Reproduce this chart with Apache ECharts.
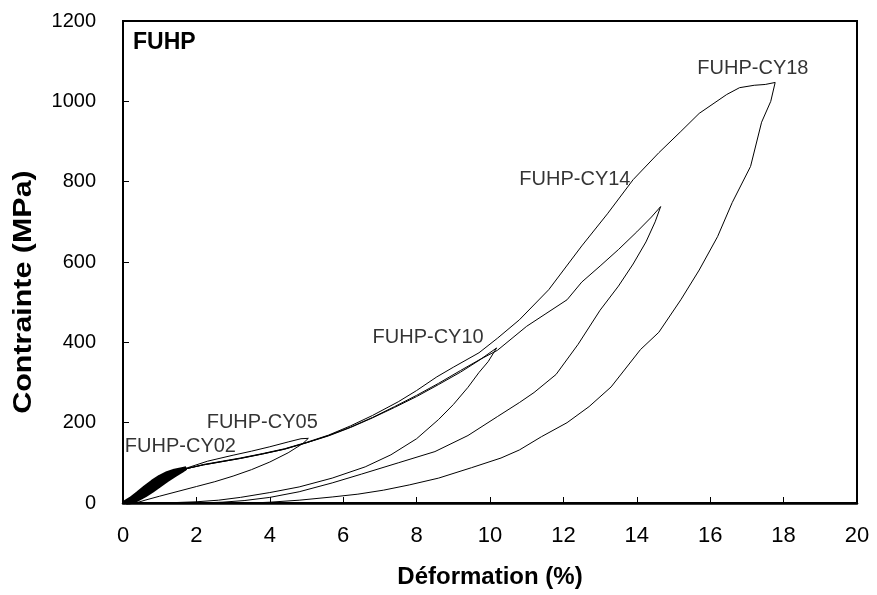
<!DOCTYPE html>
<html>
<head>
<meta charset="utf-8">
<script src="https://cdn.jsdelivr.net/npm/echarts@6/dist/echarts.min.js"></script>
<style>
html,body{margin:0;padding:0;background:#fff;}
#chart{width:877px;height:595px;}
</style>
</head>
<body>
<div id="chart"></div>
<script>
// ---- data (strain %, stress MPa) ----
const xTickLabels = [0, 2, 4, 6, 8, 10, 12, 14, 16, 18, 20];
const yTickLabels = [0, 200, 400, 600, 800, 1000, 1200];
const xTitle = 'Déformation (%)';
const yTitle = 'Contrainte (MPa)';
const panelTag = 'FUHP';
const seriesNames = ['FUHP-CY02', 'FUHP-CY05', 'FUHP-CY10', 'FUHP-CY14', 'FUHP-CY18'];

// FUHP-CY02 : repeated small cycles (dense band)
const cy02Cycles = [
  [0,0],[0.2,11],[0.4,25],[0.6,40],[0.8,54],[1.0,66],[1.2,75],[1.4,81],[1.6,85],[1.72,87],
  [1.6,79],[1.4,68],[1.2,56],[1.0,43],[0.8,30],[0.6,18],[0.4,8],[0.2,1],[0.1,0],
  [0.22,7],[0.42,20],[0.62,35],[0.82,49],[1.02,61],[1.22,71],[1.42,78],[1.62,84],
  [1.5,74],[1.3,63],[1.1,51],[0.9,38],[0.7,25],[0.5,13],[0.3,4],[0.15,0],
  [0.28,11],[0.48,26],[0.68,41],[0.88,55],[1.08,66],[1.28,75],[1.48,81],[1.68,86],
  [1.55,77],[1.35,66],[1.15,54],[0.95,41],[0.75,28],[0.55,16],[0.35,6],[0.15,1],
  [0.3,8],[0.5,22],[0.7,37],[0.9,51],[1.1,63],[1.3,73],[1.5,80],[1.7,85],
  [1.45,72],[1.25,60],[1.05,47],[0.85,34],[0.65,22],[0.45,11],[0.25,3],[0.1,0],
  [0.25,9],[0.45,23],[0.65,38],[0.85,52],[1.05,64],[1.25,73],[1.45,80],[1.66,85],
  [1.52,75],[1.32,64],[1.12,52],[0.92,40],[0.72,27],[0.52,15],[0.32,5],[0.12,0],
  [0.3,10],[0.5,24],[0.7,39],[0.9,53],[1.1,64],[1.3,74],[1.5,81],[1.7,86],
  [1.58,80],[1.38,70],[1.18,59],[0.98,47],[0.78,34],[0.58,21],[0.38,10],[0.18,2],[0.08,0]
];

// FUHP-CY05
const cy05Load = [[0,0],[0.3,14],[0.6,34],[0.9,53],[1.2,69],[1.5,80],[1.8,89],[2.3,104],[3.0,119],[3.5,129],[4.0,140],[4.5,152],[4.85,160],[5.05,161]];
const cy05Unload = [[4.9,148],[4.5,125],[4.0,102],[3.5,83],[3.0,67],[2.5,53],[2.0,41],[1.5,29],[1.0,17],[0.6,7],[0.35,0]];

// common loading path (CY10 / CY14 / CY18)
const cy10Load = [[0,0],[0.3,14],[0.6,33],[0.9,52],[1.2,68],[1.5,79],[1.8,87],[2.2,95],[2.7,103],[3.2,111],[3.8,122],[4.4,134],[5.0,150],[5.6,167],[6.2,188],[6.8,212],[7.4,238],[8.0,265],[8.6,295],[9.2,326],[9.7,355],[10.18,386]];
const cy10Unload = [[9.95,352],[9.7,325],[9.4,288],[9.0,245],[8.6,208],[8.0,160],[7.3,120],[6.6,90],[5.7,62],[4.8,40],[4.0,26],[3.2,14],[2.6,7],[2.0,3],[1.4,1],[0.9,0]];

const cy14Load = [[0,0],[0.3,14],[0.6,33],[0.9,52],[1.2,68],[1.5,79],[1.8,87],[2.2,95],[2.7,103],[3.2,111],[3.8,122],[4.4,134],[5.0,150],[5.6,168],[6.2,189],[6.8,213],[7.4,240],[8.0,268],[8.6,298],[9.2,330],[9.7,356],[10.2,380],[10.6,410],[11.0,440],[11.5,470],[12.1,506],[12.5,550],[13.0,590],[13.5,631],[14.0,675],[14.4,712],[14.65,738]];
const cy14Unload = [[14.5,700],[14.25,650],[13.9,595],[13.5,540],[13.0,480],[12.4,395],[11.8,320],[11.2,275],[10.8,250],[10.2,215],[9.4,168],[8.5,128],[7.5,100],[6.5,72],[5.7,50],[4.8,28],[4.0,14],[3.3,6],[2.7,2],[2.1,0]];

const cy18Load = [[0,0],[0.3,14],[0.6,33],[0.9,52],[1.2,68],[1.5,79],[1.8,87],[2.2,96],[2.7,104],[3.2,112],[3.8,123],[4.4,135],[5.0,151],[5.6,169],[6.2,192],[6.8,218],[7.5,252],[8.0,280],[8.55,314],[9.0,338],[9.7,374],[10.2,410],[10.8,456],[11.6,531],[12.5,640],[13.2,720],[13.9,805],[14.6,872],[15.2,925],[15.7,970],[16.45,1017],[16.8,1034],[17.2,1040],[17.5,1042],[17.77,1047]];
const cy18Unload = [[17.65,1000],[17.4,948],[17.1,838],[16.6,748],[16.2,663],[15.7,580],[15.2,506],[14.6,425],[14.1,382],[13.3,289],[12.7,240],[12.1,200],[11.4,165],[10.8,132],[10.3,112],[9.5,88],[8.6,62],[7.8,45],[7.1,32],[6.4,22],[5.7,15],[4.8,7],[4.0,2],[3.5,0]];

// curve tags: [text, strain, stress] anchor of the label's left/middle
const curveLabels = [
  ['FUHP-CY02', 0.05, 140],
  ['FUHP-CY05', 2.28, 200],
  ['FUHP-CY10', 6.8, 411],
  ['FUHP-CY14', 10.8, 805],
  ['FUHP-CY18', 15.65, 1082]
];

// ---- chart ----
const FONT = '"Liberation Sans", Arial, Helvetica, sans-serif';
const chart = echarts.init(document.getElementById('chart'), null, {renderer: 'canvas'});

const curves = [
  cy02Cycles,
  cy05Load.concat(cy05Unload),
  cy10Load.concat(cy10Unload),
  cy14Load.concat(cy14Unload),
  cy18Load.concat(cy18Unload)
];

const series = curves.map((d, i) => ({
  name: seriesNames[i],
  type: 'line',
  data: d,
  showSymbol: false,
  symbol: 'none',
  smooth: false,
  silent: true,
  animation: false,
  lineStyle: {color: '#000', width: i === 0 ? 3.5 : 1}
}));

series.push({
  type: 'scatter',
  data: curveLabels.map(l => ({value: [l[1], l[2]], name: l[0]})),
  symbolSize: 0,
  silent: true,
  animation: false,
  label: {
    show: true,
    position: 'right',
    distance: 0,
    formatter: p => p.name,
    fontFamily: FONT,
    fontSize: 20,
    color: '#000'
  }
});

const xStep = xTickLabels[1] - xTickLabels[0];
const yStep = yTickLabels[1] - yTickLabels[0];

chart.setOption({
  animation: false,
  backgroundColor: '#fff',
  grid: {left: 123, right: 20, top: 21, bottom: 92, show: true, borderColor: '#000', borderWidth: 2, backgroundColor: '#fff'},
  xAxis: {
    type: 'value',
    min: xTickLabels[0], max: xTickLabels[xTickLabels.length - 1], interval: xStep,
    name: xTitle, nameLocation: 'middle', nameGap: 62,
    nameTextStyle: {fontFamily: FONT, fontSize: 24, fontWeight: 'bold', color: '#000'},
    axisLine: {show: true, onZero: false, lineStyle: {color: '#000', width: 2.5}},
    axisTick: {show: true, inside: true, length: 6, lineStyle: {color: '#000', width: 1}},
    axisLabel: {fontFamily: FONT, fontSize: 22, color: '#000', margin: 22, formatter: v => String(v)},
    splitLine: {show: false}
  },
  yAxis: {
    type: 'value',
    min: yTickLabels[0], max: yTickLabels[yTickLabels.length - 1], interval: yStep,
    axisLine: {show: true, lineStyle: {color: '#000', width: 2}},
    axisTick: {show: true, inside: true, length: 6, lineStyle: {color: '#000', width: 1}},
    axisLabel: {fontFamily: FONT, fontSize: 20, color: '#000', margin: 27, formatter: v => String(v)},
    splitLine: {show: false}
  },
  graphic: [{
    type: 'text', left: 133, top: 31,
    style: {text: panelTag, font: 'bold 23px ' + FONT, fill: '#000'}
  }, {
    type: 'text', x: 24, y: 292, rotation: Math.PI / 2, scaleX: 1.17,
    style: {text: yTitle, font: 'bold 26px ' + FONT, fill: '#000', textAlign: 'center', textVerticalAlign: 'middle'}
  }],
  series: series
});
</script>
</body>
</html>
